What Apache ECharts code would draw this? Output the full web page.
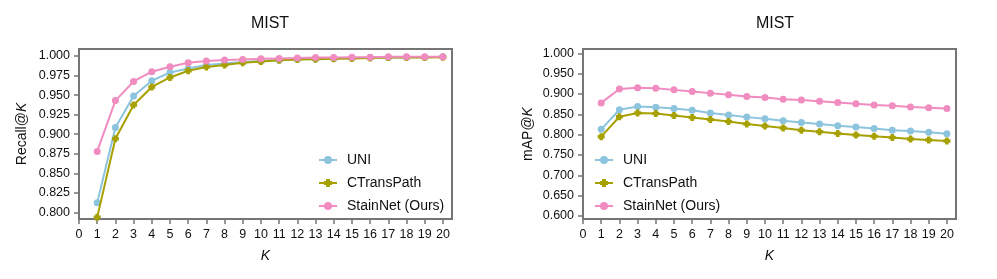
<!DOCTYPE html>
<html>
<head>
<meta charset="utf-8">
<script src="https://cdn.jsdelivr.net/npm/echarts@6/dist/echarts.min.js"></script>
<style>html,body{margin:0;padding:0;background:#fff}#c{width:997px;height:279px}</style>
</head>
<body>
<div id="c"></div>
<script>
const K = [1,2,3,4,5,6,7,8,9,10,11,12,13,14,15,16,17,18,19,20];
const xTicks = [0,1,2,3,4,5,6,7,8,9,10,11,12,13,14,15,16,17,18,19,20];
const recallTicks = [0.800,0.825,0.850,0.875,0.900,0.925,0.950,0.975,1.000];
const mapTicks = [0.600,0.650,0.700,0.750,0.800,0.850,0.900,0.950,1.000];
const seriesNames = ['UNI','CTransPath','StainNet (Ours)'];

const recallUNI = [0.8124,0.9087,0.9488,0.9684,0.9790,0.9841,0.9885,0.9905,0.9923,0.9936,0.9950,0.9960,0.9965,0.9970,0.9975,0.9980,0.9980,0.9985,0.9985,0.9990];
const recallCTP = [0.7936,0.8942,0.9373,0.9604,0.9726,0.9812,0.9859,0.9885,0.9914,0.9931,0.9945,0.9955,0.9960,0.9965,0.9970,0.9975,0.9980,0.9980,0.9980,0.9985];
const recallStain = [0.8780,0.9430,0.9675,0.9800,0.9863,0.9914,0.9936,0.9949,0.9957,0.9965,0.9970,0.9975,0.9980,0.9980,0.9985,0.9985,0.9990,0.9990,0.9990,0.9990];

const mapUNI = [0.813,0.861,0.869,0.867,0.864,0.860,0.853,0.848,0.843,0.839,0.834,0.830,0.826,0.822,0.819,0.815,0.811,0.809,0.806,0.802];
const mapCTP = [0.795,0.844,0.853,0.852,0.847,0.842,0.837,0.832,0.826,0.821,0.816,0.811,0.807,0.803,0.799,0.796,0.793,0.789,0.787,0.784];
const mapStain = [0.878,0.912,0.915,0.914,0.910,0.906,0.902,0.898,0.894,0.891,0.887,0.885,0.882,0.879,0.876,0.873,0.871,0.868,0.866,0.864];

const colors = ['#8cc4de','#a6a000','#f08cbf'];
const plusPath = 'path://M2,0H6V2H8V6H6V8H2V6H0V2H2Z';
const symbols = ['circle', plusPath, 'circle'];
const frameColor = '#757575';
const font = 'Liberation Sans, Arial, sans-serif';

const chart = echarts.init(document.getElementById('c'), null, {renderer:'canvas'});

function xAxis(gi){
  return {
    type:'value', gridIndex:gi, min:0, max:20.5,
    name:'K', nameLocation:'middle', nameGap:30,
    nameTextStyle:{fontFamily:font, fontSize:14, fontStyle:'italic', color:'#111'},
    axisLine:{show:true, onZero:false, lineStyle:{color:frameColor, width:2}},
    axisTick:{show:true, length:5, customValues:xTicks, lineStyle:{color:frameColor, width:1.5}},
    axisLabel:{customValues:xTicks, margin:9, fontFamily:font, fontSize:12.5, color:'#111'},
    splitLine:{show:false}
  };
}
function yAxis(gi, min, max, ticks, nameRich, gap){
  return {
    type:'value', gridIndex:gi, min:min, max:max,
    name:nameRich, nameLocation:'middle', nameGap:gap, nameRotate:90,
    nameTextStyle:{fontFamily:font, fontSize:14, color:'#111',
      rich:{i:{fontStyle:'italic', fontFamily:font, fontSize:14, color:'#111'}, n:{fontFamily:font, fontSize:14, color:'#111'}}},
    axisLine:{show:true, onZero:false, lineStyle:{color:frameColor, width:2}},
    axisTick:{show:true, length:5, customValues:ticks, lineStyle:{color:frameColor, width:1.5}},
    axisLabel:{customValues:ticks, margin:9, fontFamily:font, fontSize:12.5, color:'#111',
      formatter:v=>v.toFixed(3)},
    splitLine:{show:false}
  };
}
function mkSeries(gi, data){
  return data.map((d,i)=>({
    name:seriesNames[i], type:'line', xAxisIndex:gi, yAxisIndex:gi,
    data:K.map((k,j)=>[k,d[j]]),
    symbol:symbols[i], symbolSize:7, showSymbol:true,
    lineStyle:{color:colors[i], width:2},
    itemStyle:{color:colors[i]},
    emphasis:{disabled:true}, animation:false, z:2+i
  }));
}
function legend(left){
  return {
    left:left, top:153, padding:0, orient:'vertical', itemGap:9, itemWidth:18, itemHeight:10,
    data:seriesNames.map(n=>({name:n})),
    textStyle:{fontFamily:font, fontSize:14, color:'#111', padding:[0,0,0,5]},
    selectedMode:false
  };
}

chart.setOption({
  animation:false,
  backgroundColor:'#fff',
  title:[
    {text:'MIST', left:265, top:11, textAlign:'center', textStyle:{fontFamily:font, fontSize:16, fontWeight:'normal', color:'#111'}},
    {text:'MIST', left:770, top:11, textAlign:'center', textStyle:{fontFamily:font, fontSize:16, fontWeight:'normal', color:'#111'}}
  ],
  grid:[
    {left:79, top:49, width:373, height:170, show:true, borderColor:frameColor, borderWidth:2, backgroundColor:'transparent'},
    {left:583, top:49, width:373, height:170, show:true, borderColor:frameColor, borderWidth:2, backgroundColor:'transparent'}
  ],
  xAxis:[xAxis(0), xAxis(1)],
  yAxis:[
    yAxis(0, 0.7915, 1.009, recallTicks, '{n|Recall@}{i|K}', 50),
    yAxis(1, 0.5925, 1.0105, mapTicks, '{n|mAP@}{i|K}', 48)
  ],
  legend:[legend(318), legend(594)],
  series:[...mkSeries(0,[recallUNI,recallCTP,recallStain]), ...mkSeries(1,[mapUNI,mapCTP,mapStain])]
});
</script>
</body>
</html>
